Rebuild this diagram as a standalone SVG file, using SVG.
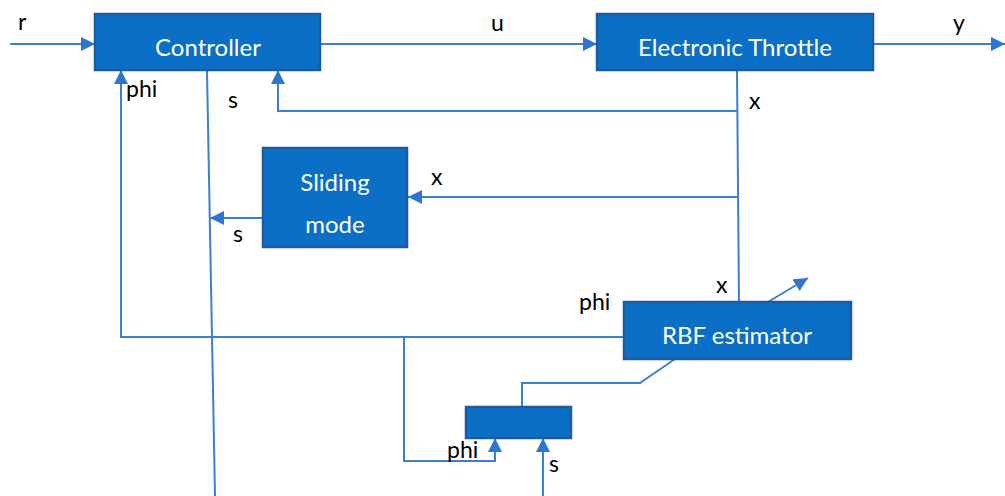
<svg xmlns="http://www.w3.org/2000/svg" width="1005" height="496" viewBox="0 0 1005 496">
<style>
.box{fill:#0B6FC6;stroke:#1D5B9E;stroke-width:2.5}
.bt{fill:#ffffff;font-family:Lato,"Liberation Sans",sans-serif;font-size:24px;text-anchor:middle}
.lb{fill:#000000;font-family:Lato,"Liberation Sans",sans-serif;font-size:23px}
.ln{fill:none;stroke:#3A7FD5;stroke-width:2}
.ar{marker-end:url(#ah)}
</style>
<defs>
<marker id="ah" markerUnits="userSpaceOnUse" markerWidth="16" markerHeight="14" refX="14" refY="7" orient="auto">
<path d="M0,0 L14,7 L0,14 Z" fill="#2E75D0"/>
</marker>
</defs>
<rect width="1005" height="496" fill="#ffffff"/>
<g id="connectors">
<path class="ln ar" d="M10,44 H95"/>
<path class="ln ar" d="M320,44 H597"/>
<path class="ln ar" d="M873,44 H1005"/>
<path class="ln" d="M737,71 L739,302"/>
<path class="ln ar" d="M738,111 H278 V70"/>
<path class="ln ar" d="M738,197 H408"/>
<path class="ln" d="M207,71 L215,496"/>
<path class="ln ar" d="M263,218 H210"/>
<path class="ln ar" d="M624,337 H121 V70"/>
<path class="ln ar" d="M768,302 L808,278"/>
<path class="ln ar" d="M404,337 V461 H495 V438"/>
<path class="ln ar" d="M543,496 V438"/>
<path class="ln" d="M522,407 V383 H640 L675,359"/>
</g>
<g id="controller">
<rect class="box" x="95" y="14" width="225" height="56"/>
<text class="bt" x="208" y="56">Controller</text>
</g>
<g id="throttle">
<rect class="box" x="597" y="14" width="276" height="56"/>
<text class="bt" x="735" y="56">Electronic Throttle</text>
</g>
<g id="sliding">
<rect class="box" x="263" y="148" width="144" height="99"/>
<text class="bt" x="335" y="191">Sliding</text>
<text class="bt" x="335" y="233">mode</text>
</g>
<g id="rbf">
<rect class="box" x="624" y="302" width="227" height="57"/>
<text class="bt" x="737" y="344">RBF estimator</text>
</g>
<g id="small">
<rect class="box" x="466" y="407" width="105" height="31"/>
</g>
<g id="labels">
<text class="lb" x="18" y="30">r</text>
<text class="lb" x="491" y="31">u</text>
<text class="lb" x="953" y="31">y</text>
<text class="lb" x="126" y="97">phi</text>
<text class="lb" x="228" y="108">s</text>
<text class="lb" x="749" y="109">x</text>
<text class="lb" x="431" y="185">x</text>
<text class="lb" x="233" y="242">s</text>
<text class="lb" x="716" y="293">x</text>
<text class="lb" x="579" y="310">phi</text>
<text class="lb" x="447" y="458">phi</text>
<text class="lb" x="549" y="472">s</text>
</g>
</svg>
